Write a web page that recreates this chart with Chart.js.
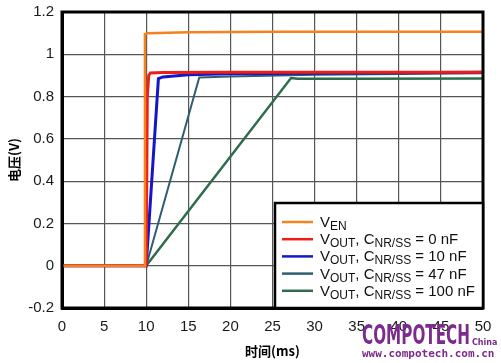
<!DOCTYPE html>
<html>
<head>
<meta charset="utf-8">
<script src="https://cdn.jsdelivr.net/npm/chart.js@4/dist/chart.umd.min.js"></script>
<style>
  body { margin: 0; background: #fff; }
  #wrap { width: 501px; height: 363px; }
</style>
</head>
<body>
<div id="wrap"><canvas id="startupChart" width="501" height="363"></canvas></div>
<script>
// Осі
const xTicks = [0, 5, 10, 15, 20, 25, 30, 35, 40, 45, 50];
const yTicks = [-0.2, 0, 0.2, 0.4, 0.6, 0.8, 1, 1.2];

// Серії: час (мс) і напруга (В)
const venT = [0, 9.75, 9.85, 10.2, 15, 25, 50];
const venV = [0, 0, 1.095, 1.1, 1.104, 1.106, 1.107];

const out0T = [0, 10, 10.13, 10.3, 10.5, 12, 20, 50];
const out0V = [0, 0, 0.8, 0.9, 0.912, 0.914, 0.915, 0.915];

const out10T = [0, 10, 11.45, 12, 15, 20, 50];
const out10V = [0, 0, 0.885, 0.893, 0.903, 0.908, 0.915];

const out47T = [0, 10, 16.3, 20, 30, 50];
const out47V = [0, 0, 0.89, 0.895, 0.903, 0.91];

const out100T = [0, 10, 27.2, 28, 35, 50];
const out100V = [0, 0, 0.888, 0.884, 0.884, 0.885];

// Підписи легенди: [текст, нижній індекс?]
const legendLabels = [
    [['V', false], ['EN', true]],
    [['V', false], ['OUT', true], [', C', false], ['NR/SS', true], [' = 0 nF', false]],
    [['V', false], ['OUT', true], [', C', false], ['NR/SS', true], [' = 10 nF', false]],
    [['V', false], ['OUT', true], [', C', false], ['NR/SS', true], [' = 47 nF', false]],
    [['V', false], ['OUT', true], [', C', false], ['NR/SS', true], [' = 100 nF', false]]
];
const colors = ['#F5821F', '#EE1E16', '#1616C8', '#2F5E6E', '#2E6C4C'];
const widths = [2.5, 3, 3, 2, 2.5];

function pts(t, v) {
    return t.map((x, i) => ({ x: x, y: v[i] }));
}

const series = [[venT, venV], [out0T, out0V], [out10T, out10V], [out47T, out47V], [out100T, out100V]];

// Рамка, легенда з індексами та водяний знак
const extras = {
    id: 'extras',
    afterDatasetsDraw(chart) {
        const ctx = chart.ctx;
        const a = chart.chartArea;
        ctx.save();
        ctx.strokeStyle = '#000';
        ctx.lineWidth = 3;
        ctx.strokeRect(a.left, a.top, a.right - a.left, a.bottom - a.top);

        // легенда
        const bx = a.right - 208, by = a.bottom - 105;
        ctx.fillStyle = '#fff';
        ctx.fillRect(bx, by, a.right - bx, a.bottom - by);
        ctx.lineWidth = 2.5;
        ctx.strokeRect(bx, by, a.right - bx, a.bottom - by);

        legendLabels.forEach((segs, i) => {
            const cy = by + 19 + i * 17.2;
            ctx.strokeStyle = colors[i];
            ctx.lineWidth = 2.5;
            ctx.beginPath();
            ctx.moveTo(bx + 7, cy);
            ctx.lineTo(bx + 38, cy);
            ctx.stroke();
            let x = bx + 45;
            ctx.fillStyle = '#111';
            ctx.textBaseline = 'alphabetic';
            ctx.textAlign = 'left';
            segs.forEach(([txt, sub]) => {
                ctx.font = sub ? '12px "Liberation Sans", Arial' : '15px "Liberation Sans", Arial';
                ctx.fillText(txt, x, cy + (sub ? 8 : 5));
                x += ctx.measureText(txt).width;
            });
        });
        ctx.restore();
    },
    afterDraw(chart) {
        const ctx = chart.ctx;
        ctx.save();
        ctx.fillStyle = '#7B2C8C';
        ctx.textAlign = 'left';
        ctx.textBaseline = 'alphabetic';
        ctx.font = 'bold 27px "DejaVu Sans Condensed", "DejaVu Sans"';
        ctx.fillText('COMPOTECH', 362, 344, 108);
        ctx.font = 'bold 8px "DejaVu Sans"';
        ctx.fillText('China', 472, 345);
        ctx.font = 'bold 11px "DejaVu Sans Mono"';
        ctx.fillText('www.compotech.com.cn', 362, 357, 133);
        ctx.restore();
    }
};

const canvas = document.getElementById('startupChart');
new Chart(canvas, {
    type: 'line',
    data: {
        datasets: series.map((s, i) => ({
            data: pts(s[0], s[1]),
            borderColor: colors[i],
            borderWidth: widths[i],
            pointRadius: 0,
            tension: 0,
            fill: false
        }))
    },
    options: {
        responsive: false,
        animation: false,
        layout: { padding: { left: 0, right: 18, top: 12, bottom: 0 } },
        plugins: { legend: { display: false }, tooltip: { enabled: false } },
        scales: {
            x: {
                type: 'linear',
                min: 0,
                max: 50,
                afterBuildTicks: s => { s.ticks = xTicks.map(v => ({ value: v })); },
                afterFit: s => { s.height = 55; s.paddingLeft = 0; s.paddingRight = 0; },
                ticks: {
                    padding: 10,
                    color: '#1a1a1a',
                    font: { family: '"Liberation Sans", Arial', size: 15 },
                    maxRotation: 0
                },
                grid: { color: '#555', lineWidth: 1.2, drawTicks: false },
                border: { color: '#000', width: 3 },
                title: {
                    display: true,
                    text: '时间(ms)',
                    color: '#000',
                    font: { family: '"Noto Sans CJK SC"', size: 13, weight: 'bold' },
                    padding: { top: 0, bottom: 4 }
                }
            },
            y: {
                type: 'linear',
                min: -0.2,
                max: 1.2,
                afterBuildTicks: s => { s.ticks = yTicks.map(v => ({ value: v })); },
                afterFit: s => { s.width = 62; s.paddingTop = 0; s.paddingBottom = 0; },
                ticks: {
                    padding: 8,
                    color: '#1a1a1a',
                    font: { family: '"Liberation Sans", Arial', size: 15 },
                    callback: v => String(Number(v.toFixed(1)))
                },
                grid: { color: '#555', lineWidth: 1.2, drawTicks: false },
                border: { color: '#000', width: 3 },
                title: {
                    display: true,
                    text: '电压(V)',
                    color: '#000',
                    font: { family: '"Noto Sans CJK SC"', size: 13, weight: 'bold' },
                    padding: { top: 6, bottom: 0 }
                }
            }
        }
    },
    plugins: [extras]
});
</script>
</body>
</html>
